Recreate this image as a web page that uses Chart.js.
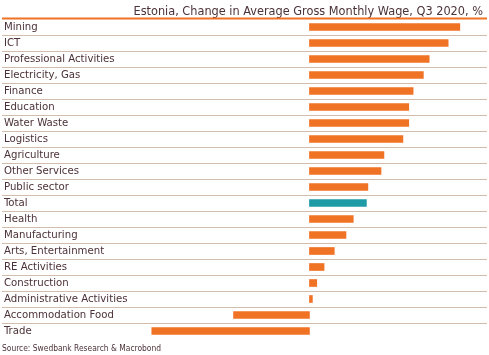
<!DOCTYPE html>
<html>
<head>
<meta charset="utf-8">
<script src="https://cdn.jsdelivr.net/npm/chart.js@4"></script>
<style>
html,body{margin:0;padding:0;background:#fff;}
#wrap{width:489px;height:355px;position:relative;}
</style>
</head>
<body>
<div id="wrap"><canvas id="c" width="489" height="355"></canvas></div>
<script>
const titleText = "Estonia, Change in Average Gross Monthly Wage, Q3 2020, %";
const sourceText = "Source: Swedbank Research & Macrobond";
const categories = ["Mining","ICT","Professional Activities","Electricity, Gas","Finance","Education","Water Waste","Logistics","Agriculture","Other Services","Public sector","Total","Health","Manufacturing","Arts, Entertainment","RE Activities","Construction","Administrative Activities","Accommodation Food","Trade"];
const values = [10.3, 9.5, 8.2, 7.8, 7.1, 6.8, 6.8, 6.4, 5.1, 4.9, 4.0, 3.9, 3.0, 2.5, 1.7, 1.0, 0.5, 0.2, -5.2, -10.8];
const highlight = "Total";

const ORANGE = "#f07224";
const TEAL = "#1f9ba6";
const TEXT = "#4b3238";
const GRID = "#d2bcab";
const FONT = "'Liberation Sans Narrow', 'DejaVu Sans Condensed', 'Liberation Sans', sans-serif";

const textPlugin = {
  id: 'texts',
  afterDraw(chart) {
    const ctx = chart.ctx;
    ctx.save();
    ctx.fillStyle = TEXT;
    ctx.textBaseline = 'alphabetic';
    ctx.font = "12.6px " + FONT;
    ctx.textAlign = 'right';
    ctx.fillText(titleText, 483, 14.5);
    ctx.font = "8.4px " + FONT;
    ctx.textAlign = 'left';
    ctx.fillText(sourceText, 2, 350.5);
    // top orange rule
    const a = chart.chartArea;
    ctx.strokeStyle = ORANGE;
    ctx.lineWidth = 2;
    ctx.beginPath();
    ctx.moveTo(a.left, 18.5);
    ctx.lineTo(a.right, 18.5);
    ctx.stroke();
    ctx.restore();
  }
};

new Chart(document.getElementById('c'), {
  type: 'bar',
  data: {
    labels: categories,
    datasets: [{
      data: values,
      backgroundColor: categories.map(c => c === highlight ? TEAL : ORANGE),
      borderWidth: 0,
      barThickness: 7
    }]
  },
  options: {
    indexAxis: 'y',
    responsive: false,
    animation: false,
    layout: { padding: { left: 2, right: 2, top: 19, bottom: 16 } },
    plugins: { legend: { display: false }, tooltip: { enabled: false }, title: { display: false } },
    scales: {
      x: { display: false, min: -21.06, max: 12.16 },
      y: {
        position: 'left',
        afterFit(scale) { scale.width = 0; },
        border: { display: false },
        grid: {
          offset: true,
          drawTicks: false,
          lineWidth: 1,
          color: ctx => (ctx.type !== 'tick' || ctx.index === 0) ? 'rgba(0,0,0,0)' : GRID
        },
        ticks: {
          mirror: true,
          autoSkip: false,
          padding: 2,
          color: TEXT,
          font: { family: FONT, size: 11.3 }
        }
      }
    }
  },
  plugins: [textPlugin]
});
</script>
</body>
</html>
